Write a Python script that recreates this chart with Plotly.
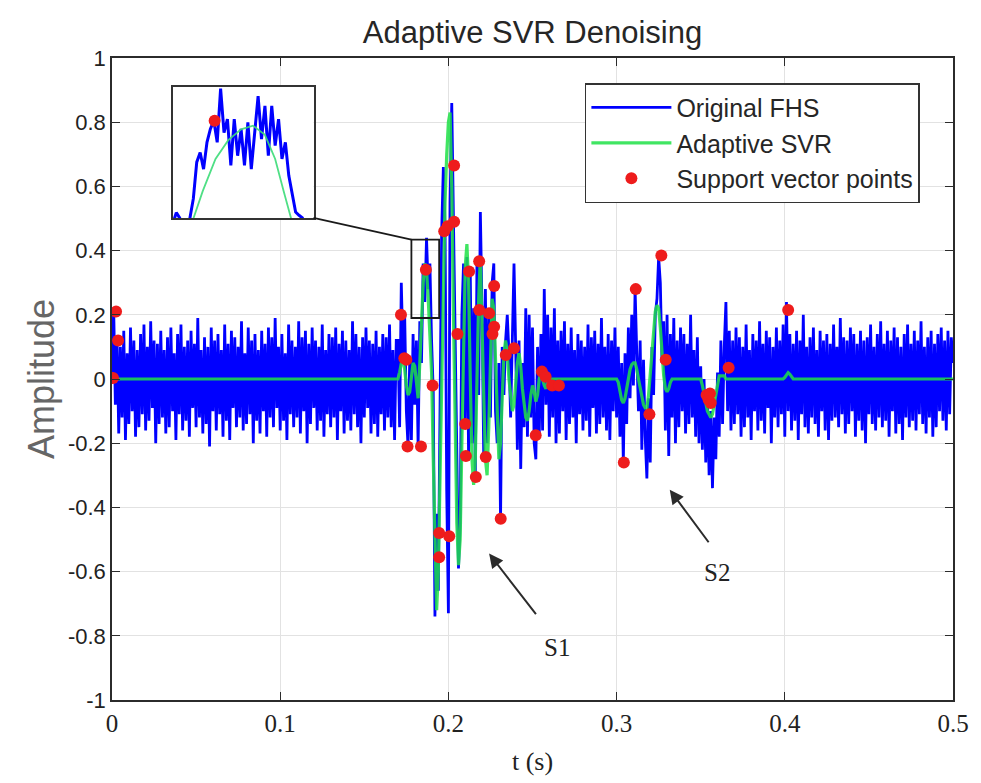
import numpy as np
import plotly.graph_objects as go

DT = 0.001

# ---------------- Original FHS (blue), 1 ms steps ----------------
fhs_noise_a_start = 0.000
fhs_noise_a = [
    0.00, 0.22, -0.08, 0.13, -0.17, 0.10, -0.12, 0.15, -0.19, 0.08,
    -0.14, 0.16, -0.10, 0.12, -0.18, 0.09, -0.15, 0.14, -0.11, 0.17,
    -0.16, 0.10, -0.13, 0.18, -0.09, 0.12, -0.20, 0.11, -0.14, 0.15,
    -0.12, 0.09, -0.17, 0.13, -0.15, 0.16, -0.10, 0.08, -0.19, 0.14,
    -0.11, 0.17, -0.16, 0.10, -0.13, 0.12, -0.18, 0.15, -0.09, 0.11,
    -0.15, 0.19, -0.12, 0.09, -0.17, 0.13, -0.14, 0.10, -0.21, 0.16,
    -0.10, 0.12, -0.16, 0.14, -0.11, 0.09, -0.18, 0.17, -0.13, 0.11,
    -0.19, 0.15, -0.09, 0.13, -0.15, 0.10, -0.12, 0.18, -0.16, 0.08,
    -0.14, 0.16, -0.11, 0.12, -0.20, 0.14, -0.13, 0.09, -0.17, 0.15,
    -0.10, 0.11, -0.18, 0.16, -0.12, 0.13, -0.15, 0.19, -0.09, 0.10,
    -0.16, 0.14, -0.13, 0.08, -0.19, 0.17, -0.11, 0.12, -0.15, 0.10,
    -0.12, 0.18, -0.17, 0.13, -0.10, 0.15, -0.20, 0.11, -0.14, 0.16,
    -0.09, 0.12, -0.16, 0.10, -0.13, 0.17, -0.18, 0.09, -0.11, 0.14,
    -0.15, 0.13, -0.12, 0.16, -0.19, 0.11, -0.10, 0.15, -0.17, 0.12,
    -0.13, 0.09, -0.16, 0.18, -0.11, 0.14, -0.15, 0.10, -0.20, 0.13,
    -0.12, 0.16, -0.09, 0.12, -0.17, 0.11, -0.14, 0.15, -0.18, 0.10,
    -0.11, 0.14, -0.16, 0.13, -0.12, 0.17, -0.15, 0.09, -0.19, 0.12,
]
fhs_s1_start = 0.170
fhs_s1 = [
    0.12, -0.15, 0.30, 0.08, 0.20, -0.10, -0.21, 0.06, -0.19, 0.14,
    -0.08, 0.12, -0.21, 0.18, 0.05, 0.36, 0.24, 0.44, 0.28, 0.36,
    0.12, -0.04, -0.74, -0.42, -0.66, -0.12, 0.46, 0.66, 0.48, -0.35,
    -0.73, 0.55, 0.86, 0.50, 0.15, -0.30, -0.59, -0.45, 0.20, 0.36,
    -0.14, 0.38, -0.25, 0.34, -0.20, 0.22, -0.31, 0.38, -0.05, 0.52,
    0.22, -0.24, 0.28, -0.20, 0.21, -0.12, 0.30, 0.36, -0.10, -0.20,
    0.05, -0.44, 0.10, -0.05, 0.12, 0.20, 0.08, -0.12, 0.18, 0.36,
    0.10, -0.22, 0.12, -0.28, 0.05, -0.15, 0.22, -0.18, 0.20, -0.12,
    0.16, -0.20, -0.25, 0.10, -0.18, 0.14, -0.16, 0.28, -0.08, 0.20,
    -0.18, 0.16, -0.12, 0.22, -0.20,
]
fhs_noise_b_start = 0.265
fhs_noise_b = [
    0.12, -0.17, 0.15, -0.10, 0.18, -0.19, 0.11, -0.14, 0.16, -0.12,
    0.09, -0.20, 0.14, -0.11, 0.12, -0.16, 0.10, -0.13, 0.17, -0.18,
    0.13, -0.09, 0.15, -0.17, 0.11, -0.14, 0.19, -0.12, 0.10, -0.16,
    0.14, -0.19, 0.12, -0.10, 0.16,
]
fhs_s2_start = 0.300
fhs_s2 = [
    -0.12, 0.10, -0.18, 0.05, -0.26, 0.08, -0.14, 0.16, -0.06, 0.20,
    -0.02, 0.28, 0.08, -0.10, 0.12, -0.22, 0.06, -0.18, -0.31, -0.06,
    -0.26, 0.10, -0.05, 0.20, 0.25, 0.38, 0.30, 0.05, 0.18, -0.16,
    0.20, -0.24, 0.14, -0.12, 0.19, -0.20, 0.12, -0.15, 0.16, -0.10,
    0.14, -0.17, 0.11, -0.14, 0.20, -0.12, 0.09, -0.18, 0.13, -0.20,
    0.04, -0.22, 0.00, -0.26, -0.05, -0.30, -0.10, -0.34, -0.12, -0.25,
    0.02, -0.18, 0.12, -0.14, 0.10, 0.24, -0.10, 0.15, -0.16, 0.12,
]
fhs_noise_c_start = 0.370
fhs_noise_c = [
    -0.14, 0.16, -0.11, 0.13, -0.18, 0.10, -0.15, 0.17, -0.12, 0.09,
    -0.19, 0.14, -0.10, 0.12, -0.16, 0.18, -0.13, 0.11, -0.17, 0.15,
    -0.09, 0.13, -0.20, 0.10, -0.12, 0.16, -0.15, 0.12, -0.11, 0.17,
    -0.18, 0.24, -0.10, 0.14, -0.16, 0.11, -0.13, 0.15, -0.19, 0.12,
    -0.11, 0.20, -0.15, 0.10, -0.17, 0.13, -0.12, 0.16, -0.14, 0.09,
    -0.18, 0.15, -0.10, 0.12, -0.16, 0.14, -0.19, 0.11, -0.13, 0.17,
    -0.12, 0.10, -0.15, 0.19, -0.11, 0.13, -0.17, 0.12, -0.14, 0.16,
    -0.10, 0.14, -0.18, 0.11, -0.13, 0.15, -0.16, 0.12, -0.20, 0.13,
    -0.11, 0.17, -0.14, 0.10, -0.16, 0.14, -0.12, 0.18, -0.15, 0.11,
    -0.13, 0.15, -0.18, 0.12, -0.10, 0.16, -0.17, 0.13, -0.14, 0.10,
    -0.19, 0.14, -0.12, 0.17, -0.15, 0.11, -0.13, 0.15, -0.16, 0.12,
    -0.11, 0.18, -0.14, 0.10, -0.17, 0.13, -0.12, 0.15, -0.18, 0.11,
    -0.15, 0.14, -0.10, 0.16, -0.13, 0.12, -0.16, 0.15, -0.11, 0.13,
    0.05,
]

# ---------------- Adaptive SVR (green) ----------------
svr_start_end_t = [0.0, 0.5]
svr_start_end_y = [0.0, 0.0]
svr_s1_start = 0.170
svr_s1 = [
    0.00, 0.02, 0.05, 0.06, 0.03, -0.02, -0.05, -0.04, 0.01, 0.05,
    0.04, -0.02, -0.06, 0.05, 0.18, 0.30, 0.36, 0.34, 0.25, 0.15,
    0.02, -0.25, -0.55, -0.72, -0.60, -0.30, 0.05, 0.35, 0.55, 0.70,
    0.80, 0.83, 0.60, 0.20, -0.20, -0.45, -0.58, -0.50, -0.20, 0.10,
    0.35, 0.42, 0.30, 0.00, -0.25, -0.33, -0.25, 0.00, 0.25, 0.38,
    0.20, -0.05, -0.25, -0.30, -0.15, 0.10, 0.25, 0.22, 0.05, -0.15,
    -0.25, -0.20, -0.05, 0.08, 0.12, 0.08, 0.00, -0.06, -0.10, -0.08,
    -0.02, 0.05, 0.08, 0.04, -0.03, -0.08, -0.12, -0.13, -0.10, -0.05,
    -0.02, -0.04, -0.07, -0.05, 0.00, 0.02, 0.00, -0.02, -0.03, -0.01,
    0.00,
]
svr_s2_start = 0.300
svr_s2 = [
    0.00, -0.01, -0.04, -0.065, -0.075, -0.06, -0.03, 0.00, 0.03, 0.045,
    0.05, 0.05, 0.03, 0.00, -0.03, -0.06, -0.08, -0.09, -0.09, -0.05,
    0.02, 0.10, 0.17, 0.21, 0.23, 0.22, 0.16, 0.08, 0.01, -0.03,
    -0.04, -0.03, -0.01, 0.00, 0.00, 0.00, 0.00, 0.00, 0.00, 0.00,
    0.00, 0.00, 0.00, 0.00, 0.00, 0.00, 0.00, 0.00, 0.00, 0.00,
    0.00, -0.02, -0.05, -0.08, -0.10, -0.11, -0.12, -0.11, -0.08, -0.04,
    -0.01, 0.01, 0.01, 0.01, 0.01, 0.00,
]
svr_bump_start = 0.399
svr_bump = [0.00, 0.005, 0.015, 0.02, 0.015, 0.005, 0.00]

# ---------------- Support vector points (red) ----------------
sv_t = [0.0006, 0.0024, 0.0036,
        0.1718, 0.1738, 0.1750, 0.1757, 0.1837, 0.1866, 0.1906,
        0.1945, 0.2005, 0.1945, 0.1975, 0.1995, 0.2034, 0.2034, 0.2054,
        0.2123, 0.2183, 0.2272, 0.2183, 0.2242, 0.2272, 0.2262,
        0.2100, 0.2104, 0.2163, 0.2222, 0.2311, 0.2341, 0.2390,
        0.2519, 0.2556, 0.2578, 0.2617, 0.2657,
        0.3043, 0.3114, 0.3195, 0.3266, 0.3292, 0.3535, 0.3547, 0.3560, 0.3555,
        0.3666, 0.4020]
sv_y = [0.003, 0.21, 0.12,
        0.20, 0.065, 0.06, -0.21, -0.21, 0.34, -0.02,
        -0.48, -0.49, -0.555, 0.46, 0.476, 0.49, 0.665, 0.14,
        0.335, 0.367, 0.29, 0.215, 0.205, 0.163, 0.14,
        -0.14, -0.24, -0.305, -0.243, -0.435, 0.075, 0.096,
        -0.175, 0.023, 0.007, -0.02, -0.02,
        -0.26, 0.28, -0.11, 0.385, 0.06, -0.05, -0.065, -0.075, -0.045,
        0.035, 0.215]

# ---------------- Inset (zoom of 0.178..0.1945 s) ----------------
inset_t_range = [0.178, 0.1945]
inset_y_range = [0.19, 0.434]
inset_blue_start = 0.178
inset_blue_dt = 0.0004
inset_blue = [0.18, 0.20, 0.19, 0.17, 0.15, 0.19, 0.226, 0.294, 0.312, 0.281,
              0.331, 0.356, 0.371, 0.331, 0.431, 0.349, 0.374, 0.288, 0.374, 0.306,
              0.356, 0.288, 0.368, 0.281, 0.349, 0.417, 0.337, 0.399, 0.306, 0.399,
              0.325, 0.374, 0.300, 0.331, 0.269, 0.238, 0.201, 0.195, 0.19, 0.17,
              0.17, 0.18]
inset_green_t = [0.1800, 0.1815, 0.1830, 0.1845, 0.1860, 0.1874, 0.1888, 0.1900, 0.1910, 0.1922]
inset_green_y = [0.17, 0.24, 0.30, 0.335, 0.355, 0.362, 0.345, 0.30, 0.24, 0.17]
inset_sv_t = [0.1829]
inset_sv_y = [0.371]

# ---------------- Axis labels ----------------
x_ticks = [0, 0.1, 0.2, 0.3, 0.4, 0.5]
x_ticklabels = ["0", "0.1", "0.2", "0.3", "0.4", "0.5"]
y_ticks = [-1, -0.8, -0.6, -0.4, -0.2, 0, 0.2, 0.4, 0.6, 0.8, 1]
y_ticklabels = ["-1", "-0.8", "-0.6", "-0.4", "-0.2", "0", "0.2", "0.4", "0.6", "0.8", "1"]


def seg(start, vals, dt=DT):
    return [round(start + i * dt, 6) for i in range(len(vals))]


fhs_t, fhs_y = [], []
for s, v in [(fhs_noise_a_start, fhs_noise_a), (fhs_s1_start, fhs_s1),
             (fhs_noise_b_start, fhs_noise_b), (fhs_s2_start, fhs_s2),
             (fhs_noise_c_start, fhs_noise_c)]:
    fhs_t += seg(s, v)
    fhs_y += v

svr_t = [svr_start_end_t[0]] + seg(svr_s1_start, svr_s1) + seg(svr_s2_start, svr_s2) \
    + seg(svr_bump_start, svr_bump) + [svr_start_end_t[1]]
svr_y = [svr_start_end_y[0]] + svr_s1 + svr_s2 + svr_bump + [svr_start_end_y[1]]

SANS = "Liberation Sans, Arial, sans-serif"
SERIF = "Liberation Serif, Times New Roman, serif"

fig = go.Figure()
fig.add_trace(go.Scatter(x=fhs_t, y=fhs_y, mode="lines", name="Original FHS",
                         line=dict(color="#0000ff", width=2.8)))
fig.add_trace(go.Scatter(x=svr_t, y=svr_y, mode="lines", name="Adaptive SVR",
                         line=dict(color="rgba(30,225,70,0.85)", width=3.2)))
fig.add_trace(go.Scatter(x=sv_t, y=sv_y, mode="markers", name="Support vector points",
                         marker=dict(color="#ee1c1c", size=12)))

# inset traces
fig.add_trace(go.Scatter(x=seg(inset_blue_start, inset_blue, inset_blue_dt), y=inset_blue,
                         mode="lines", line=dict(color="#0000ff", width=3),
                         xaxis="x2", yaxis="y2", showlegend=False))
fig.add_trace(go.Scatter(x=inset_green_t, y=inset_green_y, mode="lines",
                         line=dict(color="rgba(60,220,120,0.9)", width=1.8),
                         xaxis="x2", yaxis="y2", showlegend=False))
fig.add_trace(go.Scatter(x=inset_sv_t, y=inset_sv_y, mode="markers",
                         marker=dict(color="#ee1c1c", size=12),
                         xaxis="x2", yaxis="y2", showlegend=False))

x_range = [0, 0.5]
y_range = [-1, 1]
inset_dom_x = [0.0724, 0.2396]
inset_dom_y = [0.7508, 0.9548]

axis_common = dict(showline=True, linecolor="#2b2b2b", linewidth=1.5, mirror="ticks",
                   ticks="inside", ticklen=8, tickcolor="#2b2b2b", tickwidth=1.2,
                   showgrid=True, gridcolor="#e2e2e2", gridwidth=1, zeroline=False)

fig.update_layout(
    width=981, height=783,
    margin=dict(l=112, r=26, t=58, b=83),
    paper_bgcolor="white", plot_bgcolor="white",
    title=dict(text="Adaptive SVR Denoising", x=0.5, xref="paper", xanchor="center",
               y=1 - 32 / 783, yanchor="middle",
               font=dict(family=SANS, size=31, color="#262626")),
    xaxis=dict(range=x_range, tickvals=x_ticks, ticktext=x_ticklabels,
               tickfont=dict(family=SERIF, size=25, color="#222222"),
               title=dict(text="t (s)", font=dict(family=SERIF, size=26, color="#222222"), standoff=16),
               **axis_common),
    yaxis=dict(range=y_range, tickvals=y_ticks, ticktext=y_ticklabels,
               tickfont=dict(family=SANS, size=22, color="#222222"),
               title=dict(text="Amplitude", font=dict(family=SANS, size=36, color="#666666"), standoff=2),
               **axis_common),
    xaxis2=dict(domain=inset_dom_x, range=inset_t_range, anchor="y2",
                showticklabels=False, showgrid=False, zeroline=False, ticks="",
                showline=True, mirror=True, linecolor="#333333", linewidth=2),
    yaxis2=dict(domain=inset_dom_y, range=inset_y_range, anchor="x2",
                showticklabels=False, showgrid=False, zeroline=False, ticks="",
                showline=True, mirror=True, linecolor="#333333", linewidth=2),
    legend=dict(x=0.5623, y=0.961, xanchor="left", yanchor="top",
                bgcolor="white", bordercolor="#333333", borderwidth=1.5,
                font=dict(family=SANS, size=25, color="#262626"),
                itemwidth=80, tracegroupgap=0),
    showlegend=True,
)

# source box for the zoom and the connector to the inset
fig.add_shape(type="rect", xref="x", yref="y",
              x0=inset_t_range[0], x1=inset_t_range[1], y0=inset_y_range[0], y1=inset_y_range[1],
              line=dict(color="#1a1a1a", width=1.8))
box_left_paper = (inset_t_range[0] - x_range[0]) / (x_range[1] - x_range[0])
box_top_paper = (inset_y_range[1] - y_range[0]) / (y_range[1] - y_range[0])
fig.add_shape(type="line", xref="paper", yref="paper",
              x0=inset_dom_x[1], y0=inset_dom_y[0], x1=box_left_paper, y1=box_top_paper,
              line=dict(color="#1a1a1a", width=1.8))

# S1 / S2 arrows and labels
arrow_style = dict(showarrow=True, arrowhead=2, arrowsize=1.4, arrowwidth=2,
                   arrowcolor="#2b2b2b", text="", axref="pixel", ayref="pixel")
fig.add_annotation(x=0.2242, y=-0.544, ax=48, ay=62, **arrow_style)
fig.add_annotation(x=0.3316, y=-0.345, ax=40, ay=54, **arrow_style)
fig.add_annotation(x=0.2645, y=-0.8375, text="S1", showarrow=False,
                   font=dict(family=SERIF, size=25, color="#222222"))
fig.add_annotation(x=0.3594, y=-0.603, text="S2", showarrow=False,
                   font=dict(family=SERIF, size=25, color="#222222"))

fig.write_html("out.html")
